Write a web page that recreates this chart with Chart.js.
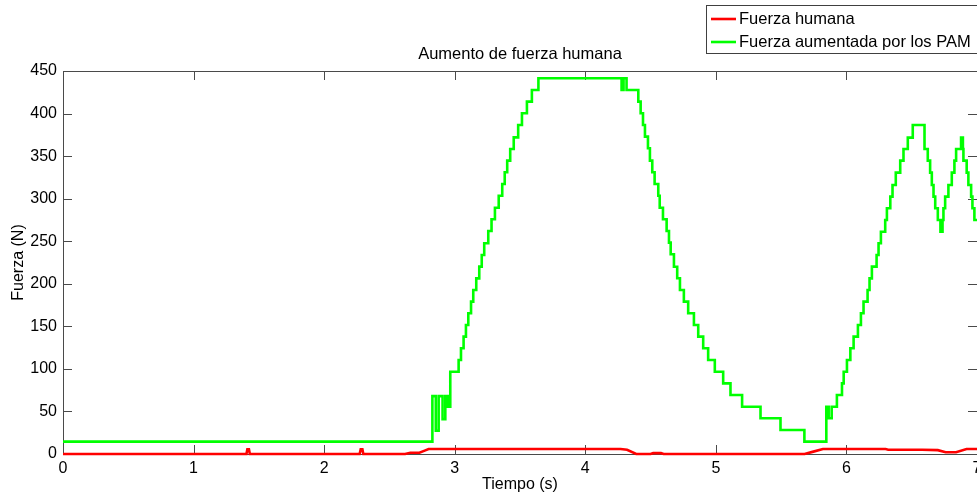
<!DOCTYPE html>
<html>
<head>
<meta charset="utf-8">
<script src="https://cdn.jsdelivr.net/npm/chart.js@4.4.0/dist/chart.umd.min.js"></script>
<style>
  html, body { margin: 0; padding: 0; background: #fff; overflow: hidden; }
  canvas { display: block; }
</style>
</head>
<body>
<canvas id="fuerza" width="977" height="497"></canvas>
<script>
// tiempo (s) y fuerza (N)
var seriesNames = ['Fuerza humana', 'Fuerza aumentada por los PAM'];

var redT = [0, 1.405, 1.412, 1.424, 1.431, 2.272, 2.280, 2.293, 2.300, 2.62, 2.66, 2.73, 2.77, 2.80,
  4.27, 4.32, 4.39, 4.50, 4.52, 4.58, 4.60, 5.68, 5.74, 5.82, 6.30, 6.32, 6.58, 6.70, 6.76, 6.84, 6.92, 7.0];
var redF = [0, 0, 5.5, 5.5, 0, 0, 5.5, 5.5, 0, 0, 1.5, 1.5, 4, 5.8,
  5.8, 5, 0, 0, 1, 1, 0, 0, 2.5, 5.8, 5.8, 5, 5, 4.5, 2, 2, 5.8, 5.8];

var greenT = [0, 2.829, 2.855, 2.877, 2.907, 2.928, 2.946, 2.966,
  3.030, 3.048, 3.068, 3.086, 3.104, 3.125, 3.142, 3.165, 3.188, 3.207, 3.226, 3.257, 3.282,
  3.308, 3.337, 3.364, 3.383, 3.402, 3.425, 3.452, 3.486, 3.515, 3.553, 3.591, 3.641,
  4.278, 4.293, 4.316,
  4.406, 4.424, 4.442, 4.457, 4.480, 4.495, 4.513, 4.531, 4.559, 4.570, 4.595, 4.623, 4.641,
  4.654, 4.679, 4.704, 4.725, 4.755, 4.788, 4.832, 4.865, 4.903, 4.941, 4.992, 5.056, 5.112,
  5.201, 5.342, 5.495, 5.678,
  5.846, 5.864, 5.887,
  5.927, 5.966, 5.979, 6.004, 6.030, 6.055, 6.088, 6.111, 6.131, 6.162, 6.177, 6.195, 6.231,
  6.246, 6.264, 6.297, 6.310, 6.336, 6.353, 6.378, 6.412, 6.437, 6.470, 6.508,
  6.598, 6.623, 6.641, 6.654, 6.667, 6.680, 6.700,
  6.720, 6.736,
  6.743, 6.756, 6.781, 6.807, 6.827, 6.840, 6.878,
  6.892, 6.896, 6.921, 6.934, 6.955, 6.965, 6.980, 7.0];
var greenF = [14.5, 68, 27.4, 68, 41, 68, 55.6, 96.7,
  110.5, 124.2, 137.9, 151.6, 165.3, 179, 192.7, 206.4, 220.1, 233.8, 247.6, 262, 275.8,
  289.4, 303.5, 317.3, 331, 344.7, 358.4, 372, 386.6, 400.3, 414, 427.7, 441.5,
  427.7, 441.5, 427.7,
  414, 400.3, 386.6, 372.9, 359.2, 344.7, 331, 317.3, 303.5, 289.4, 275.8, 262, 248.3,
  234.7, 220, 206.5, 192.7, 179, 165.3, 151.6, 137.9, 124.2, 110.5, 96.7, 83, 69.3,
  55.6, 42, 28.2, 14.5,
  55.6, 42, 55.6,
  69.3, 83, 96.7, 110.5, 124.2, 137.9, 151.6, 165.3, 179, 192.7, 206.4, 220.1, 233.8,
  247.6, 261.2, 275, 288.7, 302.4, 316.1, 330.6, 344.7, 358.4, 371.7, 386.6,
  358.4, 344.7, 330.6, 316.1, 302.4, 288.7, 275,
  261.2, 275,
  288.7, 302.4, 316.1, 330.6, 344.7, 358.4, 371.7,
  358.4, 344.7, 330.6, 316.1, 302.4, 288.7, 275, 275];

var xTicks = [0, 1, 2, 3, 4, 5, 6, 7];
var yTicks = [0, 50, 100, 150, 200, 250, 300, 350, 400, 450];
var titleText = 'Aumento de fuerza humana';
var xTitle = 'Tiempo (s)';
var yTitle = 'Fuerza (N)';

function toPoints(t, f) {
  return t.map(function(v, i) { return {x: v, y: f[i]}; });
}

var FONT = "'Liberation Sans', Arial, sans-serif";
Chart.defaults.font.family = FONT;
Chart.defaults.font.size = 16;
Chart.defaults.color = '#000';

// marco estilo MATLAB: caja, marcas hacia dentro, titulo y leyenda
var matlabFrame = {
  id: 'matlabFrame',
  beforeDatasetsDraw: function(chart) {
    var ctx = chart.ctx, a = chart.chartArea;
    var xs = chart.scales.x, ys = chart.scales.y;
    ctx.save();
    ctx.strokeStyle = '#4a4a4a';
    ctx.lineWidth = 1;
    ctx.strokeRect(a.left + 0.5, a.top + 0.5, a.right - a.left, a.bottom - a.top);
    ctx.beginPath();
    xTicks.forEach(function(v) {
      var px = Math.round(xs.getPixelForValue(v)) + 0.5;
      ctx.moveTo(px, a.bottom); ctx.lineTo(px, a.bottom - 9);
      ctx.moveTo(px, a.top); ctx.lineTo(px, a.top + 9);
    });
    yTicks.forEach(function(v) {
      var py = Math.round(ys.getPixelForValue(v)) + 0.5;
      ctx.moveTo(a.left, py); ctx.lineTo(a.left + 9, py);
      ctx.moveTo(a.right, py); ctx.lineTo(a.right - 9, py);
    });
    ctx.stroke();
    ctx.restore();
  },
  afterDraw: function(chart) {
    var ctx = chart.ctx, a = chart.chartArea;
    ctx.save();
    ctx.fillStyle = '#000';
    ctx.font = '16.5px ' + FONT;
    ctx.textAlign = 'center';
    ctx.textBaseline = 'middle';
    ctx.fillText(titleText, (a.left + a.right) / 2, 54);

    // leyenda
    ctx.fillStyle = '#fff';
    ctx.fillRect(706.5, 5.5, 300, 48);
    ctx.strokeStyle = '#404040';
    ctx.lineWidth = 1;
    ctx.strokeRect(706.5, 5.5, 300, 48);
    var colors = ['#ff0000', '#00ff00'];
    var rows = [19, 42];
    ctx.textAlign = 'left';
    for (var i = 0; i < 2; i++) {
      ctx.strokeStyle = colors[i];
      ctx.lineWidth = 2.6;
      ctx.beginPath();
      ctx.moveTo(711, rows[i]); ctx.lineTo(736, rows[i]);
      ctx.stroke();
      ctx.fillStyle = '#000';
      ctx.fillText(seriesNames[i], 739, rows[i] + 0.5);
    }
    ctx.restore();
  }
};

new Chart('fuerza', {
  type: 'line',
  data: {
    datasets: [
      {
        label: seriesNames[0],
        data: toPoints(redT, redF),
        borderColor: '#ff0000',
        borderWidth: 2.6,
        pointRadius: 0,
        fill: false,
        clip: 4
      },
      {
        label: seriesNames[1],
        data: toPoints(greenT, greenF),
        borderColor: '#00ff00',
        borderWidth: 2.6,
        pointRadius: 0,
        stepped: true,
        fill: false,
        clip: 4
      }
    ]
  },
  options: {
    responsive: false,
    animation: false,
    layout: { padding: { top: 71, right: -2, bottom: 0, left: 0 } },
    plugins: {
      legend: { display: false },
      title: { display: false },
      tooltip: { enabled: false }
    },
    scales: {
      x: {
        type: 'linear',
        min: 0,
        max: 7,
        afterBuildTicks: function(s) { s.ticks = xTicks.map(function(v) { return {value: v}; }); },
        ticks: { padding: 5, maxRotation: 0, autoSkip: false },
        grid: { display: false, drawTicks: false, tickLength: 0 },
        border: { display: false },
        title: { display: true, text: xTitle, font: { size: 16 }, padding: { top: 0, bottom: 3 } },
        afterFit: function(s) { s.height = 43; s.paddingLeft = 0; s.paddingRight = 0; }
      },
      y: {
        min: 0,
        max: 450,
        afterBuildTicks: function(s) { s.ticks = yTicks.map(function(v) { return {value: v}; }); },
        ticks: { padding: 6, autoSkip: false },
        grid: { display: false, drawTicks: false, tickLength: 0 },
        border: { display: false },
        title: { display: true, text: yTitle, font: { size: 16 }, padding: { top: 9, bottom: 0 } },
        afterFit: function(s) { s.width = 63; s.paddingTop = 0; s.paddingBottom = 0; }
      }
    }
  },
  plugins: [matlabFrame]
});
</script>
</body>
</html>
